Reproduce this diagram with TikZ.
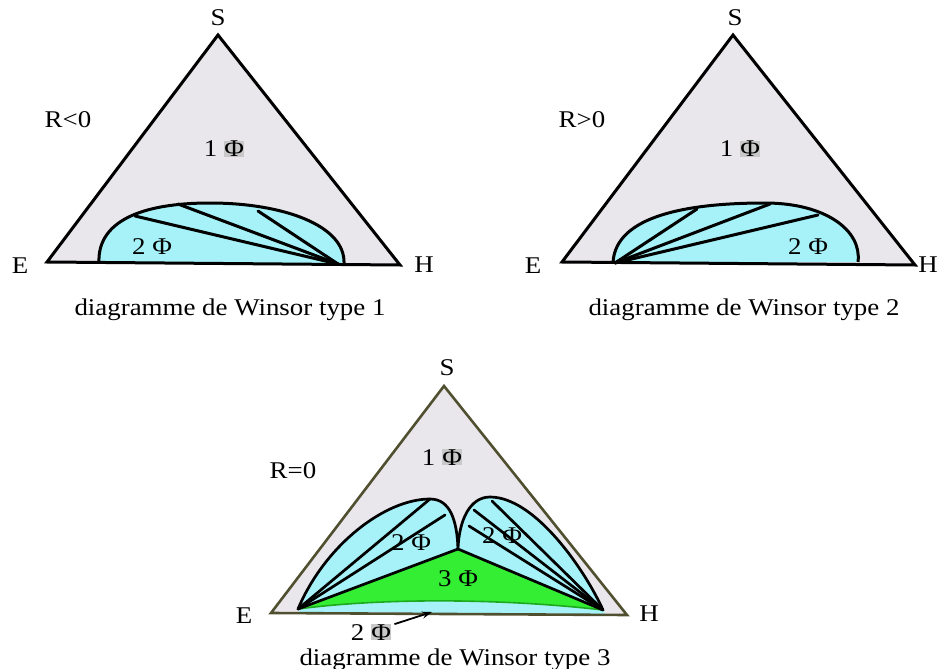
\documentclass[tikz,border=0pt]{standalone}
\usepackage{fontspec}
\setmainfont{Liberation Serif}[FakeStretch=1.12]
\usetikzlibrary{arrows.meta}
\definecolor{trigrey}{RGB}{233,231,236}
\definecolor{phblue}{RGB}{166,242,248}
\definecolor{phgreen}{RGB}{51,238,51}
\definecolor{dkgreen}{RGB}{30,170,30}
\definecolor{olivedk}{RGB}{80,80,48}
\definecolor{hlgrey}{RGB}{200,200,200}
\newcommand\hlphi{{\setlength{\fboxsep}{0.3pt}\colorbox{hlgrey}{Φ}}}
\begin{document}
\begin{tikzpicture}[x=1pt,y=-1pt,
  lbl/.style={anchor=base, inner sep=0pt, font=\fontsize{24}{28}\selectfont},
  tri/.style={fill=trigrey, draw=black, line width=3pt, line join=miter},
  tri3/.style={fill=trigrey, draw=olivedk, line width=2.6pt, line join=miter},
  dome/.style={fill=phblue, draw=black, line width=3pt},
  tie/.style={draw=black, line width=3pt, line cap=round},
  lobe/.style={fill=phblue, draw=black, line width=2.7pt, line join=round},
  tie3/.style={draw=black, line width=2.7pt, line cap=round}]
\useasboundingbox (0,0) rectangle (938,669);

% ---------------- Panel 1 ----------------
\coordinate (E1) at (47,262);
\coordinate (S1) at (218,35);
\coordinate (H1) at (400,265);
\fill[trigrey] (E1) -- (S1) -- (H1) -- cycle;
\coordinate (D1a) at (99,263);
\coordinate (D1b) at (344,264);
\fill[phblue] (D1a) .. controls (97,222) and (140,203) .. (210,203)
  .. controls (282,203) and (346,225) .. (D1b) -- cycle;
\draw[dome, fill=none] (D1a) .. controls (97,222) and (140,203) .. (210,203)
  .. controls (282,203) and (346,225) .. (D1b);
\coordinate (P1) at (338,264);
\coordinate (T1a) at (135,216);
\coordinate (T1b) at (178,204);
\coordinate (T1c) at (258,211);
\draw[tie] (P1) -- (T1a);
\draw[tie] (P1) -- (T1b);
\draw[tie] (P1) -- (T1c);
\draw[tri, fill=none] (E1) -- (S1) -- (H1) -- cycle;
\node[lbl] (s1) at (218,26) {S};
\node[lbl] (e1) at (20,273) {E};
\node[lbl] (h1) at (424,272) {H};
\node[lbl] (r1) at (68,128) {R<0};
\node[lbl] (one1) at (224,157) {1 \hlphi};
\node[lbl] (two1) at (152,254) {2 Φ};
\node[lbl] (cap1) at (230,315) {diagramme de Winsor type 1};

% ---------------- Panel 2 ----------------
\coordinate (E2) at (562,262);
\coordinate (S2) at (733,35);
\coordinate (H2) at (915,265);
\fill[trigrey] (E2) -- (S2) -- (H2) -- cycle;
\coordinate (D2a) at (613,263);
\coordinate (D2b) at (858,262);
\fill[phblue] (D2a) .. controls (615,215) and (690,203) .. (765,203)
  .. controls (825,203) and (862,230) .. (D2b) -- cycle;
\draw[dome, fill=none] (D2a) .. controls (615,215) and (690,203) .. (765,203)
  .. controls (825,203) and (862,230) .. (D2b);
\coordinate (P2) at (615,263);
\coordinate (T2a) at (697,209);
\coordinate (T2b) at (770,204);
\coordinate (T2c) at (818,215);
\draw[tie] (P2) -- (T2a);
\draw[tie] (P2) -- (T2b);
\draw[tie] (P2) -- (T2c);
\draw[tri, fill=none] (E2) -- (S2) -- (H2) -- cycle;
\node[lbl] (s2) at (735,26) {S};
\node[lbl] (e2) at (533,273) {E};
\node[lbl] (h2) at (928,272) {H};
\node[lbl] (r2) at (582,128) {R>0};
\node[lbl] (one2) at (740,157) {1 \hlphi};
\node[lbl] (two2) at (808,254) {2 Φ};
\node[lbl] (cap2) at (744,315) {diagramme de Winsor type 2};

% ---------------- Panel 3 ----------------
\coordinate (E3) at (271,613);
\coordinate (S3) at (444,386);
\coordinate (H3) at (627,615);
\fill[trigrey] (E3) -- (S3) -- (H3) -- cycle;
\coordinate (Ep) at (298,609);
\coordinate (Hp) at (603,610);
\coordinate (C) at (458,549);
\coordinate (L1) at (430,499);
\coordinate (L2) at (490,497);
% blue sliver under the green region
\fill[phblue] (Ep) .. controls (380,598) and (500,598) .. (Hp) -- (605,614) -- (300,612) -- cycle;
% green three-phase triangle
\fill[phgreen] (Ep) -- (C) -- (Hp) .. controls (500,598) and (380,598) .. (Ep) -- cycle;
\draw[dkgreen, line width=1.6pt] (Hp) .. controls (500,598) and (380,598) .. (Ep);
% left lobe
\filldraw[lobe] (Ep) .. controls (325,545) and (385,499) .. (L1)
  .. controls (450,499) and (457,520) .. (C) -- cycle;
% right lobe
\filldraw[lobe] (C) .. controls (459,520) and (470,497) .. (L2)
  .. controls (535,497) and (585,570) .. (Hp) -- cycle;
\coordinate (La) at (445,515);
\coordinate (Ra) at (492,501);
\coordinate (Rb) at (474,510);
\coordinate (Rc) at (469,526);
\draw[tie3] (Ep) -- (L1);
\draw[tie3] (Ep) -- (La);
\draw[tie3] (Hp) -- (Ra);
\draw[tie3] (Hp) -- (Rb);
\draw[tie3] (Hp) -- (Rc);
\draw[tri3, fill=none] (E3) -- (S3) -- (H3) -- cycle;
\node[lbl] (s3) at (447,375) {S};
\node[lbl] (e3) at (244,623) {E};
\node[lbl] (h3) at (649,621) {H};
\node[lbl] (r3) at (293,478) {R=0};
\node[lbl] (one3) at (442,465) {1 \hlphi};
\node[lbl] (twoL) at (411,550) {2 Φ};
\node[lbl] (twoR) at (502,543) {2 Φ};
\node[lbl] (three) at (458,586) {3 Φ};
\node[lbl] (twoB) at (371,640) {2 \hlphi};
\coordinate (arrowtip) at (432,612);
\draw[-{Stealth[length=10pt,width=7pt]}, line width=1.8pt] (twoB.east) ++(3,-8) coordinate (arrowtail) -- (arrowtip);
\node[lbl] (cap3) at (455,665) {diagramme de Winsor type 3};
\end{tikzpicture}
\end{document}
